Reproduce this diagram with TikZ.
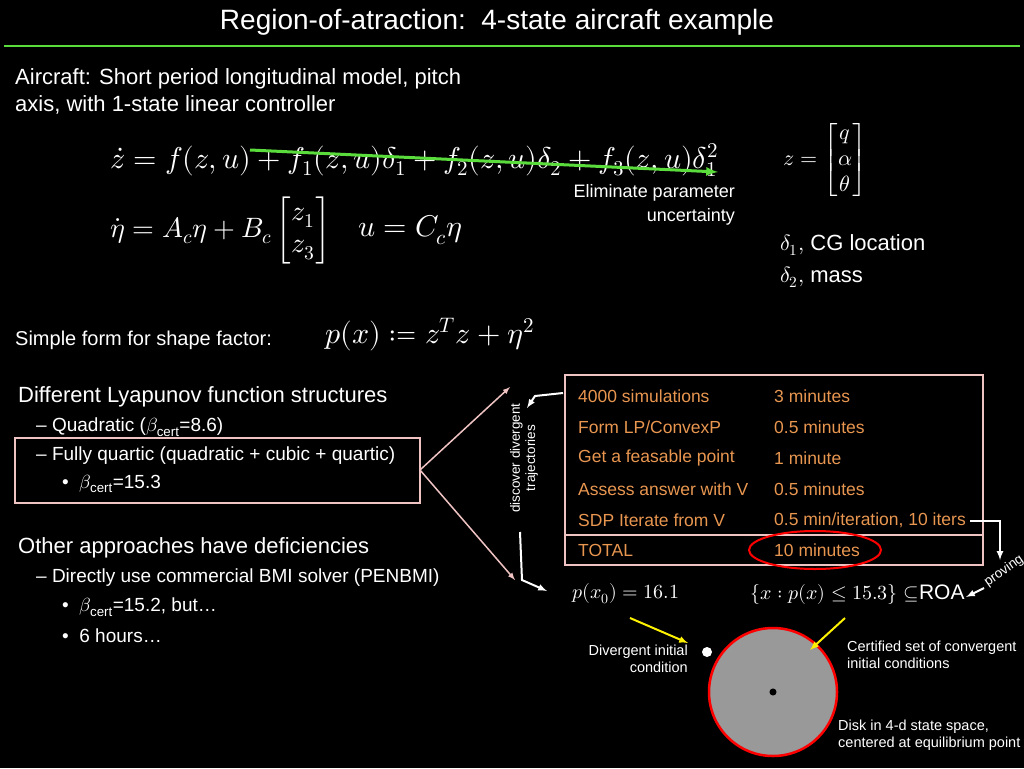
\documentclass[tikz,border=0pt]{standalone}
\usepackage{fontspec}
\setmainfont{Liberation Sans}
\usepackage{amsmath,amssymb}
\usepackage{unicode-math}
\setmathfont{Latin Modern Math}
\begin{document}
\begin{tikzpicture}[x=1pt,y=-1pt,
  txt/.style={text=white,inner sep=0pt,anchor=west,font=\fontsize{22}{26}\selectfont},
  orn/.style={text=orng,inner sep=0pt,anchor=west,font=\fontsize{17.5}{20}\selectfont},
  eq/.style={text=white,inner sep=0pt,anchor=west,font=\fontsize{30}{34}\selectfont},
  small/.style={text=white,inner sep=0pt,font=\fontsize{15}{17}\selectfont,align=right},
  pinkbox/.style={draw=pinkc,line width=1.5pt},
  parr/.style={draw=pinkc,line width=1.5pt,-latex},
  warr/.style={draw=white,line width=2pt,-latex},
  yarr/.style={draw=yellow,line width=2pt,-latex}]
\definecolor{orng}{RGB}{232,150,80}
\definecolor{pinkc}{RGB}{240,195,195}
\definecolor{grn}{RGB}{90,220,60}
\fill[black] (0,0) rectangle (1024,768);
\useasboundingbox (0,0) rectangle (1024,768);
\node[txt,anchor=center,font=\fontsize{28}{32}\selectfont] (title) at (497,22) {Region-of-atraction:\ \ 4-state aircraft example};
\draw[grn,line width=2.5pt] (4,46) -- (1020,46);
\node[txt,align=left,anchor=north west,font=\fontsize{22}{27}\selectfont] (air) at (15,68) {Aircraft: Short period longitudinal model, pitch\\axis, with 1-state linear controller};
\node[eq] (zd) at (110,160) {$\dot z = f(z,u)+f_1(z,u)\delta_1+f_2(z,u)\delta_2+f_3(z,u)\delta_1^2$};
\coordinate (ga) at (250,150); \coordinate (gb) at (718,172);
\draw[grn,line width=3pt,-latex] (ga) -- (gb);
\node[small,anchor=north east,font=\fontsize{18}{24}\selectfont] (elim) at (735,184) {Eliminate parameter\\uncertainty};
\node[eq,font=\fontsize{22}{26}\selectfont] (zv) at (783,160) {$z=\begin{bmatrix}q\\ \alpha\\ \theta\end{bmatrix}$};
\node[eq,font=\fontsize{28}{32}\selectfont] (etad) at (110,230) {$\dot\eta = A_c\eta + B_c\begin{bmatrix}z_1\\ z_3\end{bmatrix}$};
\node[eq] (ueq) at (358,230) {$u=C_c\eta$};
\node[txt,font=\fontsize{22}{26}\selectfont] (d1) at (780,245) {$\delta_1,$ CG location};
\node[txt,font=\fontsize{22}{26}\selectfont] (d2) at (780,277) {$\delta_2,$ mass};
\node[txt,font=\fontsize{20}{24}\selectfont] (sf) at (15,340) {Simple form for shape factor:};
\node[eq] (px) at (325,335) {$p(x)\coloneq z^Tz+\eta^2$};
\node[txt,font=\fontsize{22}{26}\selectfont] (ly) at (18,397) {Different Lyapunov function structures};
\node[txt,font=\fontsize{19}{22}\selectfont] (q1) at (36,427) {– Quadratic ($\beta_{\text{cert}}$=8.6)};
\draw[pinkbox] (15,438) rectangle (420,503);
\node (lbox) at (420,470) {};
\node[txt,font=\fontsize{19}{22}\selectfont] (q2) at (36,456) {– Fully quartic (quadratic + cubic + quartic)};
\node[txt,font=\fontsize{19}{22}\selectfont] (q3) at (62,484) {•\ \ $\beta_{\text{cert}}$=15.3};
\node[txt,font=\fontsize{22}{26}\selectfont] (oth) at (18,548) {Other approaches have deficiencies};
\node[txt,font=\fontsize{19}{22}\selectfont] (o1) at (36,578) {– Directly use commercial BMI solver (PENBMI)};
\node[txt,font=\fontsize{19}{22}\selectfont] (o2) at (62,607) {•\ \ $\beta_{\text{cert}}$=15.2, but…};
\node[txt,font=\fontsize{19}{22}\selectfont] (o3) at (62,636) {•\ \ 6 hours…};
\coordinate (pa1) at (510,387); \coordinate (pa2) at (515,580);
\draw[parr] (lbox.center) -- (pa1);
\draw[parr] (lbox.center) -- (pa2);
\node[small,align=center,rotate=90,anchor=center,font=\fontsize{13.5}{15}\selectfont] (disc) at (524,458) {discover divergent\\trajectories};
% table
\draw[pinkbox] (565,375) rectangle (983,565);
\draw[pinkbox] (565,535) -- (983,535);
\node[orn] (r1) at (578,396) {4000 simulations};
\node[orn] (r2) at (578,427) {Form LP/ConvexP};
\node[orn] (r3) at (578,458) {Get a feasable point};
\node[orn] (r4) at (578,489) {Assess answer with V};
\node[orn] (r5) at (578,520) {SDP Iterate from V};
\node[orn] (r6) at (578,550) {TOTAL};
\node[orn] (t1) at (774,396) {3 minutes};
\node[orn] (t2) at (774,427) {0.5 minutes};
\node[orn] (t3) at (774,458) {1 minute};
\node[orn] (t4) at (774,489) {0.5 minutes};
\node[orn] (t5) at (774,520) {0.5 min/iteration, 10 iters};
\node[orn] (t6) at (774,550) {10 minutes};
\draw[red,line width=2pt] (815,550) ellipse [x radius=66,y radius=19];
\coordinate (w1) at (527,408);
\draw[warr] (563,393) -- (535,396) -- (w1);
\coordinate (w2) at (547,591);
\draw[warr] (520,532) -- (522,580) -- (w2);
\coordinate (w3) at (1000,560);
\draw[warr] (970,521) -- (1000,521) -- (w3);
\node[small,rotate=35,anchor=center,font=\fontsize{13.5}{15}\selectfont] (prov) at (1004,571) {proving};
\node[eq,font=\fontsize{20}{24}\selectfont] (p0) at (572,594) {$p(x_0)=16.1$};
\node[eq,font=\fontsize{20}{24}\selectfont] (set) at (750,594) {$\{x:p(x)\le 15.3\}\subseteq$\fontsize{21}{26}\selectfont ROA};
\coordinate (w4) at (966,597);
\draw[warr] (984,588) -- (w4);
\node[small,anchor=north east,font=\fontsize{14.5}{17}\selectfont] (div) at (688,645) {Divergent initial\\condition};
\fill[white] (707,652) circle (5);
\node[inner sep=0pt] (wd) at (707,652) {};
\filldraw[fill=gray!80,draw=red,line width=2.5pt] (773,692) circle (64);
\node[circle,fill=black,inner sep=2.5pt] (ctr) at (773,692) {};
\coordinate (ya) at (630,618); \coordinate (yb) at (688,643);
\coordinate (yc) at (845,618); \coordinate (yd) at (810,650);
\draw[yarr] (ya) -- (yb);
\draw[yarr] (yc) -- (yd);
\node[small,align=left,anchor=north west,font=\fontsize{14.5}{17}\selectfont] (cert) at (847,641) {Certified set of convergent\\initial conditions};
\node[small,align=left,anchor=north west,font=\fontsize{14.5}{17}\selectfont] (disk) at (838,720) {Disk in 4-d state space,\\centered at equilibrium point};
\end{tikzpicture}
\end{document}
